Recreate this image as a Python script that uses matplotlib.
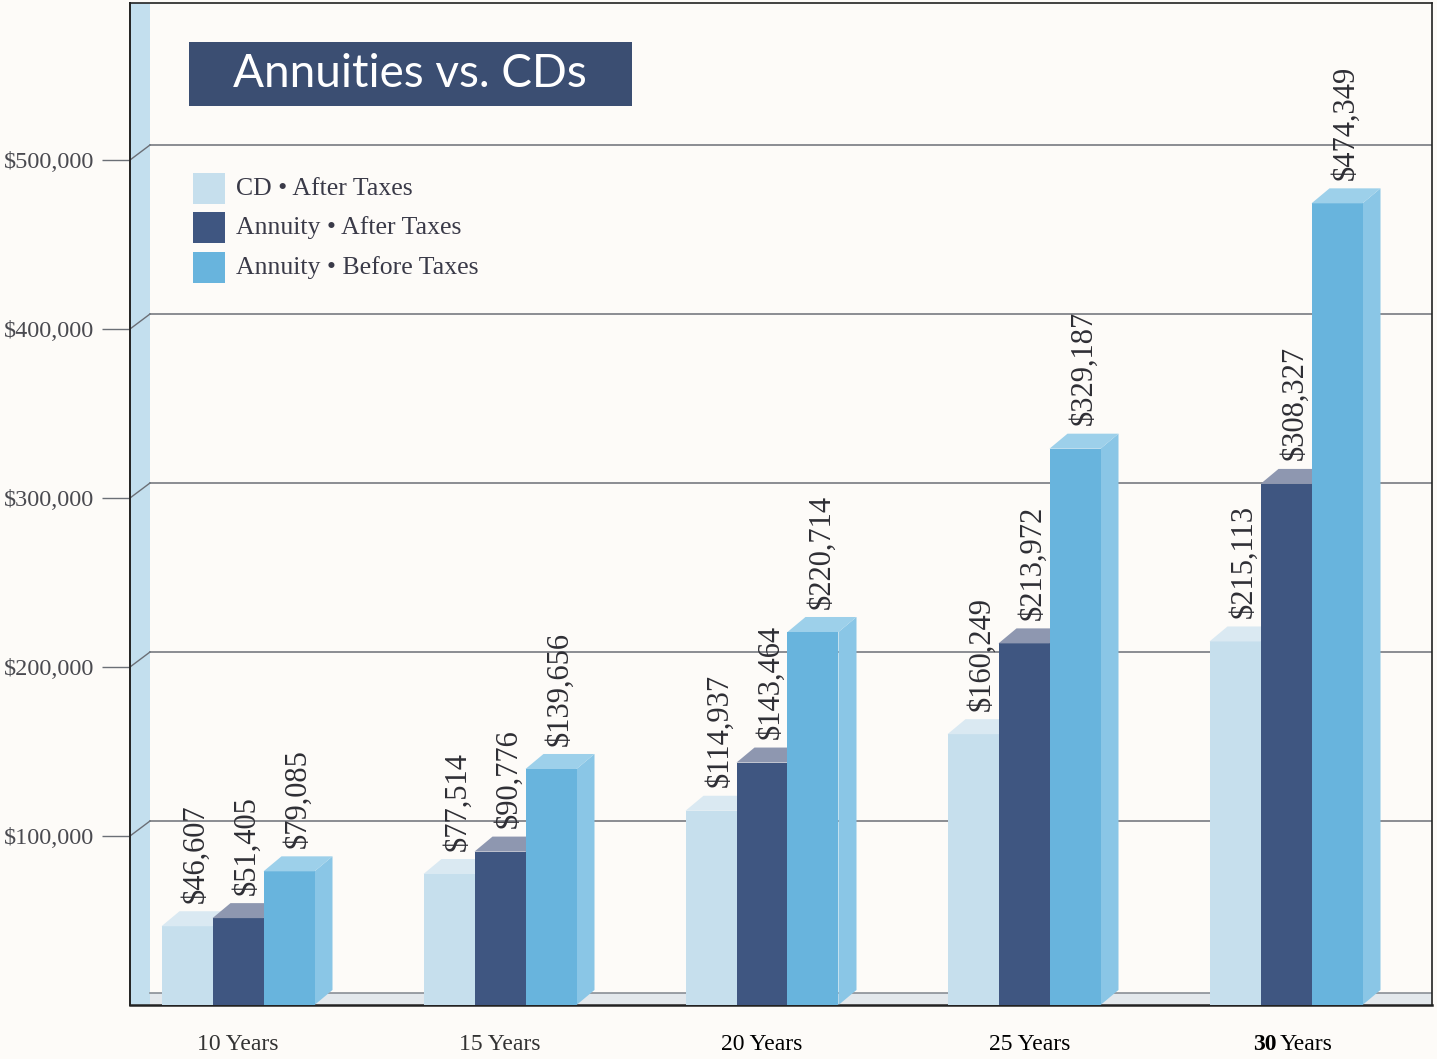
import numpy as np
import matplotlib.pyplot as plt
from matplotlib.patches import Polygon, Rectangle

# data
years = ["10", "15", "20", "25", "30"]
series = ["CD \u2022 After Taxes", "Annuity \u2022 After Taxes", "Annuity \u2022 Before Taxes"]
cd_after = [46607, 77514, 114937, 160249, 215113]
annuity_after = [51405, 90776, 143464, 213972, 308327]
annuity_before = [79085, 139656, 220714, 329187, 474349]
yticks = [100000, 200000, 300000, 400000, 500000]

front = ["#c6dfed", "#3f5681", "#68b4dd"]
topc = ["#dae9f2", "#8e97b0", "#9dd0ea"]
sidec = ["#d3e6f1", "#5a6d92", "#8ac6e6"]
bg = "#fdfbf8"

fig = plt.figure(figsize=(14.37, 10.59), dpi=100, facecolor=bg)
W, H = 1437, 1059
ax = fig.add_axes([130 / W, (H - 1005) / H, (1432 - 130) / W, (1005 - 3) / H])
ax.set_facecolor(bg)

ymax = 1002 / 169 * 100000
x_left = (130 - 238) / 262
x_right = (1432 - 238) / 262
ax.set_xlim(x_left, x_right)
ax.set_ylim(0, ymax)

# depth of the fake 3d, in data units
dx = 18 / 262
dy = 15 / 169 * 100000
wall = 20 / 262
bw = 51 / 262

x = np.arange(len(years))
vals = [cd_after, annuity_after, annuity_before]

# floor and left wall
ax.add_patch(Polygon([(x_left, 0), (x_right, 0), (x_right, dy * 0.8), (x_left + wall, dy * 0.8)],
                     closed=True, facecolor="#e3e8ec", edgecolor="none", zorder=1))
ax.plot([x_left + wall, x_right], [dy * 0.8, dy * 0.8], color="#8a8f96", lw=1.2, zorder=1.5)
ax.add_patch(Rectangle((x_left, 0), wall, ymax, facecolor="#c3dfee", edgecolor="none", zorder=1))

# gridlines on the back wall
for t in yticks:
    ax.plot([x_left + wall, x_right], [t + dy, t + dy], color="#6b6f76", lw=1.1, zorder=1.5)
    ax.plot([x_left, x_left + wall], [t, t + dy], color="#6b6f76", lw=1.0, zorder=1.5)

# bars
for i in range(len(years)):
    for k in range(3):
        h = vals[k][i]
        x0 = x[i] + (k - 1) * bw - bw / 2
        x1 = x0 + bw
        z = 3 + k
        ax.bar(x0, h, width=bw, align="edge", color=front[k], edgecolor="none", zorder=z)
        ax.add_patch(Polygon([(x0, h), (x1, h), (x1 + dx, h + dy), (x0 + dx, h + dy)],
                             closed=True, facecolor=topc[k], edgecolor="none", zorder=z))
        ax.add_patch(Polygon([(x1, 0), (x1 + dx, dy), (x1 + dx, h + dy), (x1, h)],
                             closed=True, facecolor=sidec[k], edgecolor="none", zorder=z - 0.5))
        ax.text(x0 + bw / 2 + dx / 2, h + dy + 5000, "${:,}".format(h), rotation=90,
                ha="center", va="bottom", fontsize=22, family="Liberation Serif",
                color="#2e2e34", zorder=10)

# axes cosmetics
ax.set_xticks([])
ax.set_yticks(yticks)
ax.set_yticklabels(["${:,}".format(t) for t in yticks], fontsize=17.5,
                   family="Liberation Serif", color="#4a4a50")
ax.tick_params(axis="y", length=20, width=1, color="#6b6f76", pad=6)
for s in ["left", "bottom", "right", "top"]:
    ax.spines[s].set_color("#222222")
ax.spines["left"].set_linewidth(1.4)
ax.spines["bottom"].set_linewidth(1.8)
ax.spines["right"].set_linewidth(1.2)
ax.spines["top"].set_linewidth(1.2)

# category labels under the axis
for i, yr in enumerate(years):
    xc = x[i] + (0.02 if i >= 3 else 0)
    col = "#333333" if i < 2 else "#000000"
    if yr == "30":
        ax.text(xc - 0.055, -23500, yr, ha="right", va="center", fontsize=17,
                family="Liberation Serif", fontweight="bold", color=col)
        ax.text(xc - 0.045, -23500, "Years", ha="left", va="center", fontsize=17,
                family="Liberation Serif", color=col)
    else:
        ax.text(xc, -23500, yr + " Years", ha="center", va="center", fontsize=17,
                family="Liberation Serif", color=col)

# title box
fig.patches.append(Rectangle((189 / W, (H - 106) / H), (632 - 189) / W, 64 / H,
                             transform=fig.transFigure, facecolor="#3b4e72",
                             edgecolor="none", zorder=5))
fig.text(410 / W, (H - 74) / H, "Annuities vs. CDs", ha="center", va="center",
         fontsize=33, family="Lato", color="white", zorder=6)

# legend
leg_y = [189, 228, 268]
for k in range(3):
    fig.patches.append(Rectangle((193 / W, (H - leg_y[k] - 15) / H), 32 / W, 31 / H,
                                 transform=fig.transFigure, facecolor=front[k],
                                 edgecolor="none", zorder=5))
    fig.text(236 / W, (H - leg_y[k]) / H, series[k], ha="left", va="center",
             fontsize=18.5, family="Liberation Serif", color="#3a3a48", zorder=6)

fig.savefig("out.png", dpi=100, facecolor=bg)
